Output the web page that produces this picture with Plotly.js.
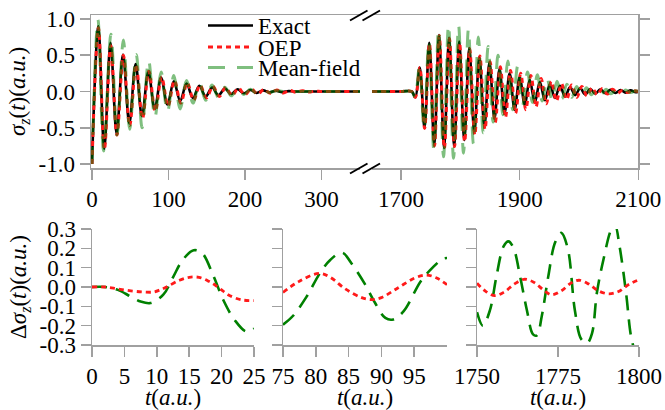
<!DOCTYPE html>
<html>
<head>
<meta charset="utf-8">
<script src="https://cdn.plot.ly/plotly-3.0.1.min.js"></script>
<style>html,body{margin:0;padding:0;background:#fff;}#chart{width:665px;height:410px;}</style>
</head>
<body>
<div id="chart"></div>
<script>
// ---------- top panel, early window (extrema) ----------
const exactEarlyT = [0, 8.3, 16, 24.2, 32.2, 40.5, 48.8, 57, 65.3, 73.7, 82, 90.3, 98.6, 107, 115.3, 123.6, 132, 140.3, 148.6, 157, 165.3, 173.6, 182, 190.3, 198.6, 207, 215.3, 223.6, 232, 240.3, 248.6, 257, 265, 280, 300, 320, 340, 352];
const exactEarlyV = [-1.0, 0.90, -0.79, 0.67, -0.58, 0.51, -0.44, 0.38, -0.34, 0.27, -0.24, 0.19, -0.18, 0.14, -0.13, 0.11, -0.09, 0.08, -0.07, 0.055, -0.05, 0.04, -0.035, 0.03, -0.025, 0.02, -0.02, 0.015, -0.012, 0.01, -0.008, 0.005, 0, 0, 0, 0, 0, 0];
const oepEarlyT = [0, 8.4, 16.2, 24.5, 32.6, 41, 49.3, 57.6, 66, 74.3, 82.7, 91, 99.4, 107.8, 116.1, 124.5, 132.9, 141.2, 149.6, 158, 166.3, 174.7, 183, 191.4, 199.8, 208.1, 216.5, 224.9, 233.2, 241.6, 250, 258.3, 266.7, 275, 283.4, 291.8, 300, 320, 340, 352];
const oepEarlyV = [-1.0, 0.88, -0.80, 0.63, -0.60, 0.50, -0.47, 0.37, -0.37, 0.28, -0.27, 0.20, -0.20, 0.15, -0.16, 0.12, -0.12, 0.09, -0.09, 0.07, -0.07, 0.055, -0.055, 0.045, -0.045, 0.035, -0.035, 0.03, -0.025, 0.02, -0.02, 0.015, -0.012, 0.01, -0.008, 0.005, 0, 0, 0, 0];
const mfEarlyT = [0, 7.8, 15.2, 24.8, 32.6, 41, 49.2, 57.8, 65.5, 74, 82.2, 90.3, 98.6, 107, 115.2, 123.6, 132, 140.3, 148.6, 157, 165.3, 173.6, 182, 190.3, 198.6, 207, 215.3, 223.6, 232, 240, 250, 265, 280, 300, 320, 340, 352];
const mfEarlyV = [-1.0, 0.99, -0.82, 0.79, -0.60, 0.71, -0.52, 0.51, -0.50, 0.43, -0.36, 0.27, -0.28, 0.22, -0.24, 0.15, -0.16, 0.12, -0.12, 0.09, -0.08, 0.06, -0.06, 0.045, -0.04, 0.03, -0.025, 0.02, -0.015, 0.01, 0, 0, 0, 0, 0, 0, 0];

// ---------- top panel, late window ----------
const exactLateT = [1651, 1700, 1718, 1724, 1731.5, 1739.5, 1747.5, 1756, 1764, 1772.5, 1781, 1789.5, 1798, 1806.5, 1815, 1823.5, 1832, 1840.5, 1849, 1857.5, 1866, 1874.5, 1883, 1891.5, 1900, 1908.5, 1917, 1925.5, 1934, 1942.5, 1951, 1959.5, 1968, 1976.5, 1985, 1993.5, 2002, 2010.5, 2019, 2027.5, 2036, 2044.5, 2053, 2061.5, 2070, 2078.5, 2087, 2095.5, 2100];
const exactLateV = [0, 0, 0, -0.08, 0.33, -0.50, 0.67, -0.74, 0.78, -0.78, 0.74, -0.76, 0.69, -0.67, 0.60, -0.57, 0.48, -0.48, 0.40, -0.37, 0.31, -0.30, 0.25, -0.25, 0.20, -0.18, 0.16, -0.15, 0.13, -0.12, 0.10, -0.09, 0.08, -0.07, 0.06, -0.05, 0.045, -0.04, 0.035, -0.03, 0.03, -0.025, 0.025, -0.02, 0.02, -0.015, 0.015, -0.01, 0];
const oepLateT = [1651, 1700, 1718, 1724, 1731.6, 1739.7, 1747.8, 1756.3, 1764.4, 1773, 1781.5, 1790.1, 1798.6, 1807.2, 1815.7, 1824.3, 1832.9, 1841.5, 1850.1, 1858.7, 1867.3, 1875.9, 1884.5, 1893.1, 1901.7, 1910.3, 1918.9, 1927.5, 1936.1, 1944.7, 1953.3, 1961.9, 1970.5, 1979.1, 1987.7, 1996.3, 2004.9, 2013.5, 2022.1, 2030.7, 2039.3, 2047.9, 2056.5, 2065.1, 2073.7, 2082.3, 2090.9, 2100];
const oepLateV = [0, 0, 0, -0.08, 0.33, -0.51, 0.66, -0.75, 0.77, -0.78, 0.73, -0.76, 0.67, -0.69, 0.59, -0.60, 0.49, -0.52, 0.41, -0.43, 0.34, -0.36, 0.29, -0.30, 0.25, -0.25, 0.22, -0.21, 0.18, -0.17, 0.14, -0.13, 0.11, -0.11, 0.09, -0.08, 0.07, -0.06, 0.05, -0.045, 0.04, -0.035, 0.03, -0.025, 0.02, -0.015, 0.01, 0];
const mfLateT = [1651, 1700, 1718, 1723.5, 1731, 1738.8, 1746.8, 1755.2, 1763.2, 1771.6, 1780, 1788.5, 1797, 1805.3, 1813.6, 1822, 1830.3, 1838.6, 1846.9, 1855.2, 1863.5, 1871.8, 1880, 1888.3, 1896.6, 1904.9, 1913.2, 1921.5, 1929.8, 1938, 1946.3, 1954.6, 1962.9, 1971.2, 1979.5, 1987.8, 1996, 2004.3, 2012.6, 2020.9, 2029.2, 2037.5, 2045.8, 2054, 2062.3, 2070.6, 2078.9, 2087.2, 2095.5, 2100];
const mfLateV = [0, 0, 0, -0.08, 0.34, -0.52, 0.70, -0.80, 0.86, -0.90, 0.92, -0.92, 0.91, -0.85, 0.86, -0.72, 0.75, -0.57, 0.62, -0.42, 0.50, -0.32, 0.42, -0.25, 0.35, -0.19, 0.27, -0.15, 0.23, -0.13, 0.18, -0.12, 0.14, -0.10, 0.10, -0.08, 0.07, -0.06, 0.05, -0.045, 0.04, -0.035, 0.03, -0.03, 0.025, -0.02, 0.02, -0.015, 0.01, 0];

// ---------- bottom panels: differences from exact ----------
const dOep1T = [0, 2, 4, 6, 8, 9.5, 10.5, 11.5, 13.5, 15, 16.5, 18, 19, 20, 21, 23, 25];
const dOep1V = [0, 0, -0.01, -0.02, -0.026, -0.026, -0.015, 0, 0.035, 0.05, 0.05, 0.03, 0.01, -0.015, -0.04, -0.066, -0.07];
const dMf1T = [0, 2, 4, 6, 7.5, 9, 11, 12.5, 14, 15.7, 17, 18.7, 20.3, 22, 23.8, 25];
const dMf1V = [0, 0, -0.015, -0.05, -0.075, -0.083, -0.04, 0.05, 0.14, 0.19, 0.175, 0.06, -0.07, -0.17, -0.23, -0.215];

const dOep2T = [75, 77.5, 80.5, 82.2, 84.5, 87, 88.5, 90, 92.5, 95, 96.8, 98.5, 100];
const dOep2V = [-0.028, 0.03, 0.07, 0.05, -0.01, -0.055, -0.065, -0.055, -0.005, 0.045, 0.062, 0.045, 0.012];
const dMf2T = [75, 76.5, 78.6, 80.6, 82.2, 84, 85.4, 87.4, 89, 90.6, 91.8, 93.4, 96, 97.8, 99.3, 100];
const dMf2V = [-0.195, -0.15, -0.05, 0.07, 0.14, 0.178, 0.124, 0.02, -0.08, -0.16, -0.168, -0.125, 0.03, 0.1, 0.145, 0.15];

const dOep3T = [1750, 1752.5, 1755.5, 1758.5, 1761.5, 1764.5, 1767.5, 1770.5, 1773, 1776, 1779, 1781.5, 1784.5, 1787.5, 1790.5, 1793.5, 1797, 1800];
const dOep3V = [0.02, -0.02, -0.045, -0.025, 0.015, 0.04, 0.025, -0.015, -0.04, -0.02, 0.02, 0.035, 0.015, -0.02, -0.035, -0.025, 0.015, 0.038];
const dMf3T = [1750, 1751.8, 1754, 1756, 1758.2, 1759.7, 1761.3, 1763.3, 1765.4, 1767.3, 1768.5, 1770, 1772, 1774.1, 1776, 1778, 1780.2, 1782.2, 1784, 1785.5, 1787, 1789, 1791.5, 1792.6, 1794, 1796, 1797.6, 1799, 1800];
const dMf3V = [-0.13, -0.2, -0.12, 0.055, 0.21, 0.236, 0.2, 0.055, -0.12, -0.245, -0.25, -0.15, 0.055, 0.23, 0.28, 0.2, -0.12, -0.27, -0.29, -0.24, -0.03, 0.14, 0.3, 0.32, 0.21, -0.03, -0.26, -0.34, -0.36];

// ---------- tick labels ----------
const topYTicks = [-1, -0.5, 0, 0.5, 1];
const topYLabels = ['-1.0', '-0.5', '0.0', '0.5', '1.0'];
const earlyXTicks = [0, 100, 200, 300];
const earlyXLabels = ['0', '100', '200', '300'];
const lateXTicks = [1700, 1900, 2100];
const lateXLabels = ['1700', '1900', '2100'];
const botYTicks = [-0.3, -0.2, -0.1, 0, 0.1, 0.2, 0.3];
const botYLabels = ['-0.3', '-0.2', '-0.1', '0.0', '0.1', '0.2', '0.3'];
const p1XTicks = [0, 5, 10, 15, 20, 25];
const p1XLabels = ['0', '5', '10', '15', '20', '25'];
const p2XTicks = [75, 80, 85, 90, 95];
const p2XLabels = ['75', '80', '85', '90', '95'];
const p3XTicks = [1750, 1775, 1800];
const p3XLabels = ['1750', '1775', '1800'];

const names = ['Exact', 'OEP', 'Mean-field'];

// ---------- styles ----------
const FONT = 'Liberation Serif';
const GRAY = '#a0a0a0';
const exactLine = {color: '#000000', width: 2.6, shape: 'spline'};
const oepLine = {color: '#ff1a1a', width: 3, dash: '5px,4px', shape: 'spline'};
const mfTopLine = {color: 'rgba(0,128,0,0.5)', width: 3, dash: '17px,12px', shape: 'spline'};
const mfBotLine = {color: '#008000', width: 2.6, dash: '15px,9px', shape: 'spline'};
const oepBotLine = {color: '#ff1a1a', width: 2.8, dash: '5px,4px', shape: 'spline'};

const traces = [
  {x: exactEarlyT, y: exactEarlyV, xaxis: 'x', yaxis: 'y', mode: 'lines', line: exactLine, name: names[0], legend: 'legend'},
  {x: oepEarlyT, y: oepEarlyV, xaxis: 'x', yaxis: 'y', mode: 'lines', line: oepLine, name: names[1], legend: 'legend2'},
  {x: mfEarlyT, y: mfEarlyV, xaxis: 'x', yaxis: 'y', mode: 'lines', line: mfTopLine, name: names[2], legend: 'legend3'},
  {x: exactLateT, y: exactLateV, xaxis: 'x2', yaxis: 'y2', mode: 'lines', line: exactLine, name: names[0], showlegend: false},
  {x: oepLateT, y: oepLateV, xaxis: 'x2', yaxis: 'y2', mode: 'lines', line: oepLine, name: names[1], showlegend: false},
  {x: mfLateT, y: mfLateV, xaxis: 'x2', yaxis: 'y2', mode: 'lines', line: mfTopLine, name: names[2], showlegend: false},
  {x: dMf1T, y: dMf1V, xaxis: 'x3', yaxis: 'y3', mode: 'lines', line: mfBotLine, name: names[2], showlegend: false},
  {x: dOep1T, y: dOep1V, xaxis: 'x3', yaxis: 'y3', mode: 'lines', line: oepBotLine, name: names[1], showlegend: false},
  {x: dMf2T, y: dMf2V, xaxis: 'x4', yaxis: 'y4', mode: 'lines', line: mfBotLine, name: names[2], showlegend: false},
  {x: dOep2T, y: dOep2V, xaxis: 'x4', yaxis: 'y4', mode: 'lines', line: oepBotLine, name: names[1], showlegend: false},
  {x: dMf3T, y: dMf3V, xaxis: 'x5', yaxis: 'y5', mode: 'lines', line: mfBotLine, name: names[2], showlegend: false},
  {x: dOep3T, y: dOep3V, xaxis: 'x5', yaxis: 'y5', mode: 'lines', line: oepBotLine, name: names[1], showlegend: false}
];

const W = 665, H = 410;
const px = v => v / W;
const py = v => 1 - v / H;
const tickFont = {family: FONT, size: 23, color: '#000'};
function ax(extra) {
  return Object.assign({
    showline: true, linecolor: GRAY, linewidth: 1.5,
    ticks: 'outside', ticklen: 10, tickwidth: 1.5, tickcolor: GRAY,
    showgrid: false, zeroline: false, tickfont: tickFont,
    tickmode: 'array', fixedrange: true
  }, extra);
}
const xTitle = {text: '<i>t</i>(<i>a.u.</i>)', font: {family: FONT, size: 23, color: '#000'}, standoff: 2};
function leg(yc) {
  return {x: px(203), y: py(yc), xanchor: 'left', yanchor: 'middle', bgcolor: 'rgba(0,0,0,0)',
          font: {family: FONT, size: 23, color: '#000'}, itemwidth: 45, borderwidth: 0};
}

const layout = {
  width: W, height: H,
  margin: {l: 0, r: 0, t: 0, b: 0},
  paper_bgcolor: '#fff', plot_bgcolor: 'rgba(0,0,0,0)',
  font: {family: FONT, size: 23, color: '#000'},
  showlegend: true,
  legend: leg(25.5),
  legend2: leg(47),
  legend3: leg(67.5),
  xaxis: ax({domain: [px(91), px(360)], range: [-1.3, 350.3], anchor: 'y', mirror: true,
             tickvals: earlyXTicks, ticktext: earlyXLabels}),
  yaxis: ax({domain: [py(168), py(15)], range: [-1.055, 1.055], anchor: 'x',
             tickvals: topYTicks, ticktext: topYLabels,
             title: {text: '<i>σ<sub>z</sub></i>(<i>t</i>)(<i>a.u.</i>)', font: {family: FONT, size: 23, color: '#000'}, standoff: 6}}),
  xaxis2: ax({domain: [px(372), px(638.3)], range: [1651, 2100], anchor: 'y2', mirror: true,
              tickvals: lateXTicks, ticktext: lateXLabels}),
  yaxis2: ax({domain: [py(168), py(15)], range: [-1.055, 1.055], anchor: 'x2', side: 'right',
              tickvals: topYTicks, showticklabels: false}),
  xaxis3: ax({domain: [px(92), px(254)], range: [0, 25], anchor: 'y3',
              tickvals: p1XTicks, ticktext: p1XLabels, title: xTitle}),
  yaxis3: ax({domain: [py(345), py(229)], range: [-0.3, 0.3], anchor: 'x3',
              tickvals: botYTicks, ticktext: botYLabels,
              title: {text: 'Δ<i>σ<sub>z</sub></i>(<i>t</i>)(<i>a.u.</i>)', font: {family: FONT, size: 23, color: '#000'}, standoff: 6}}),
  xaxis4: ax({domain: [px(283), px(447)], range: [75, 100], anchor: 'y4',
              tickvals: p2XTicks, ticktext: p2XLabels, title: xTitle}),
  yaxis4: ax({domain: [py(345), py(229)], range: [-0.3, 0.3], anchor: 'x4',
              tickvals: botYTicks, showticklabels: false}),
  xaxis5: ax({domain: [px(477), px(639)], range: [1750, 1800], anchor: 'y5',
              tickvals: p3XTicks, ticktext: p3XLabels, title: xTitle}),
  yaxis5: ax({domain: [py(345), py(229)], range: [-0.3, 0.3], anchor: 'x5',
              tickvals: botYTicks, showticklabels: false}),
  shapes: [
    // axis-break marks
    {type: 'line', xref: 'paper', yref: 'paper', x0: px(350), y0: py(20.5), x1: px(367.5), y1: py(10.5), line: {color: '#000', width: 2}},
    {type: 'line', xref: 'paper', yref: 'paper', x0: px(362.5), y0: py(20.5), x1: px(380), y1: py(10.5), line: {color: '#000', width: 2}},
    {type: 'line', xref: 'paper', yref: 'paper', x0: px(350), y0: py(173.5), x1: px(367.5), y1: py(163.5), line: {color: '#000', width: 2}},
    {type: 'line', xref: 'paper', yref: 'paper', x0: px(362.5), y0: py(173.5), x1: px(380), y1: py(163.5), line: {color: '#000', width: 2}}
  ]
};

Plotly.newPlot('chart', traces, layout, {staticPlot: true, displayModeBar: false});
</script>
</body>
</html>
